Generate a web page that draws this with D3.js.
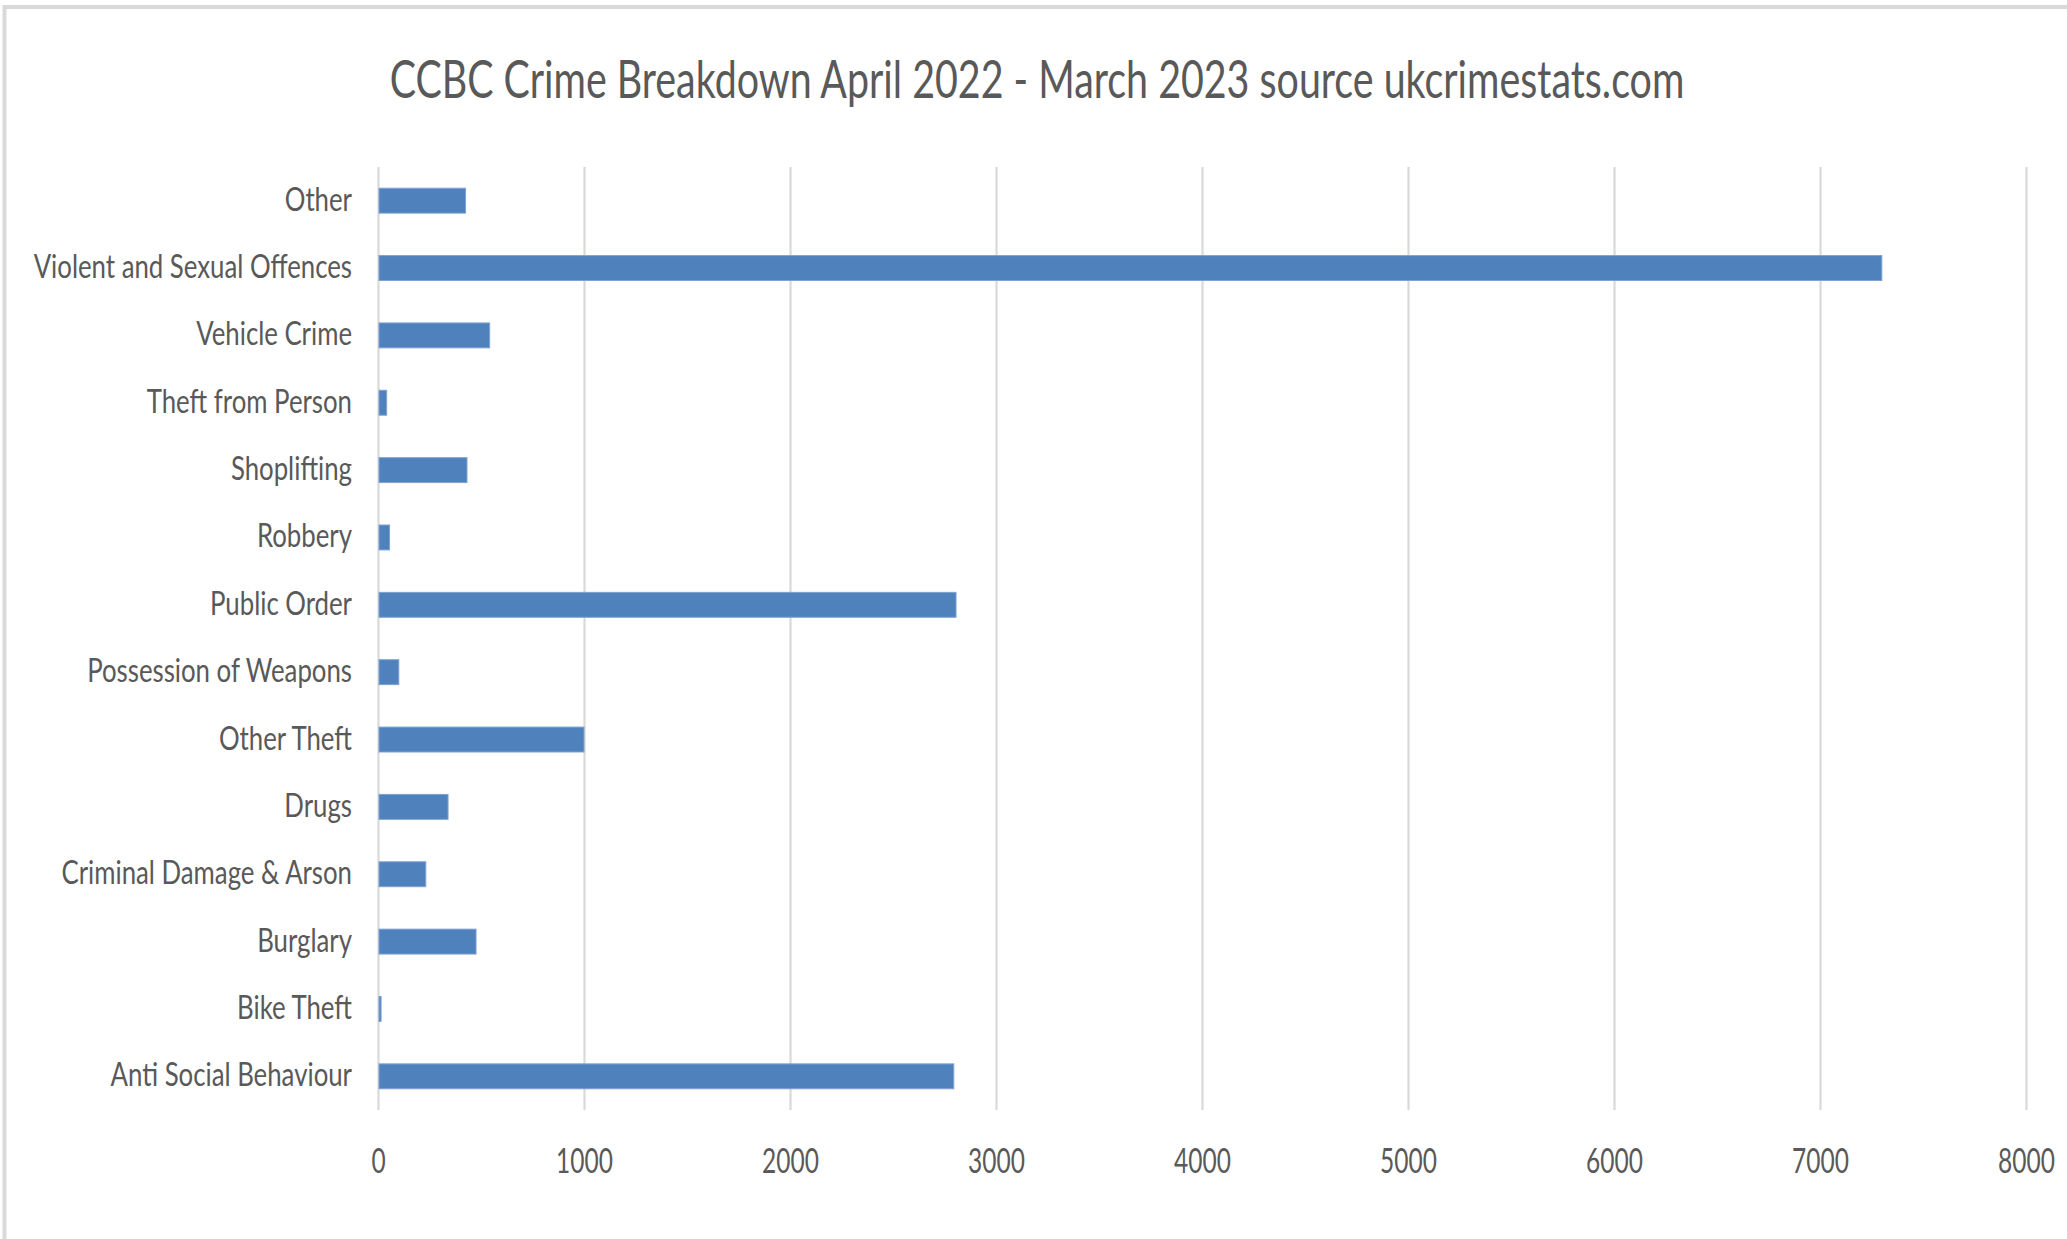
<!DOCTYPE html>
<html lang='en'>

<head>
   <meta charset='UTF-8'>
   <script src="https://cdnjs.cloudflare.com/ajax/libs/d3/7.8.5/d3.min.js"></script>
   <style>
      body {
         margin: 0;
         background: #fff;
      }

      svg {
         display: block;
      }

      text {
         font-family: Lato, 'Open Sans', sans-serif;
         fill: #595959;
      }
   </style>
   <title>CCBC Crime Breakdown</title>
</head>

<body>
   <svg id='chart'></svg>

   <script>
      'use strict'

      // data
      const categories = ['Other', 'Violent and Sexual Offences', 'Vehicle Crime', 'Theft from Person',
         'Shoplifting', 'Robbery', 'Public Order', 'Possession of Weapons', 'Other Theft', 'Drugs',
         'Criminal Damage & Arson', 'Burglary', 'Bike Theft', 'Anti Social Behaviour']
      const crimeCounts = [425, 7300, 542, 42, 432, 56, 2806, 101, 1000, 340, 232, 476, 15, 2795]
      const xTicks = [0, 1000, 2000, 3000, 4000, 5000, 6000, 7000, 8000]
      const titleText = 'CCBC Crime Breakdown April 2022 - March 2023 source ukcrimestats.com'

      const width = 2067,
         height = 1239
      const margin = { top: 167, right: 41, bottom: 129, left: 378 }
      const tickSqueeze = 0.7,
         labelSqueeze = 0.77

      const svg = d3.select('svg')
         .attr('width', width)
         .attr('height', height)

      // chart frame (only top and left edges show in the crop)
      svg.append('rect')
         .attr('x', 4.5)
         .attr('y', 7)
         .attr('width', width + 20)
         .attr('height', height + 20)
         .attr('fill', 'none')
         .attr('stroke', '#d9d9d9')
         .attr('stroke-width', 4)

      const x = d3.scaleLinear([0, 8000], [margin.left, width - margin.right])
      const y = d3.scaleBand(categories, [margin.top, height - margin.bottom])
         .paddingInner(0.63)
         .paddingOuter(0.315)

      // gridlines
      svg.append('g')
         .attr('class', 'grid')
         .attr('transform', `translate(0,${height - margin.bottom})`)
         .call(d3.axisBottom(x).tickValues(xTicks).tickSize(-(height - margin.top - margin.bottom)).tickFormat(''))
         .call(g => g.select('.domain').remove())
         .call(g => g.selectAll('line').attr('stroke', '#d9d9d9').attr('stroke-width', 2.2))

      // bars
      svg.append('g')
         .selectAll('rect')
         .data(crimeCounts)
         .join('rect')
         .attr('x', x(0) + 1)
         .attr('y', (d, i) => y(categories[i]))
         .attr('width', d => Math.max(0, x(d) - x(0) - 1))
         .attr('height', y.bandwidth())
         .attr('fill', '#4f81bd')
         .attr('stroke', '#7fa3d1')
         .attr('stroke-width', 1)

      // x axis labels
      svg.append('g')
         .attr('transform', `translate(0,${height - margin.bottom})`)
         .call(d3.axisBottom(x).tickValues(xTicks).tickSize(0).tickFormat(d3.format('d')))
         .call(g => g.select('.domain').remove())
         .call(g => g.selectAll('text')
            .attr('y', 0)
            .attr('dy', 0)
            .attr('font-size', 35)
            .attr('transform', `translate(0,63) scale(${tickSqueeze},1)`))

      // y axis labels
      svg.append('g')
         .attr('transform', `translate(${margin.left},0)`)
         .call(d3.axisLeft(y).tickSize(0))
         .call(g => g.select('.domain').remove())
         .call(g => g.selectAll('text')
            .attr('x', 0)
            .attr('dy', 0)
            .attr('font-size', 33.5)
            .attr('transform', `translate(-26,10) scale(${labelSqueeze},1)`))

      // title, squeezed to the reference width
      const title = svg.append('text')
         .attr('text-anchor', 'middle')
         .attr('font-size', 53)
         .text(titleText)
      const titleScale = 1295 / title.node().getComputedTextLength()
      title.attr('transform', `translate(1037,98) scale(${titleScale},1)`)

   </script>
</body>

</html>
